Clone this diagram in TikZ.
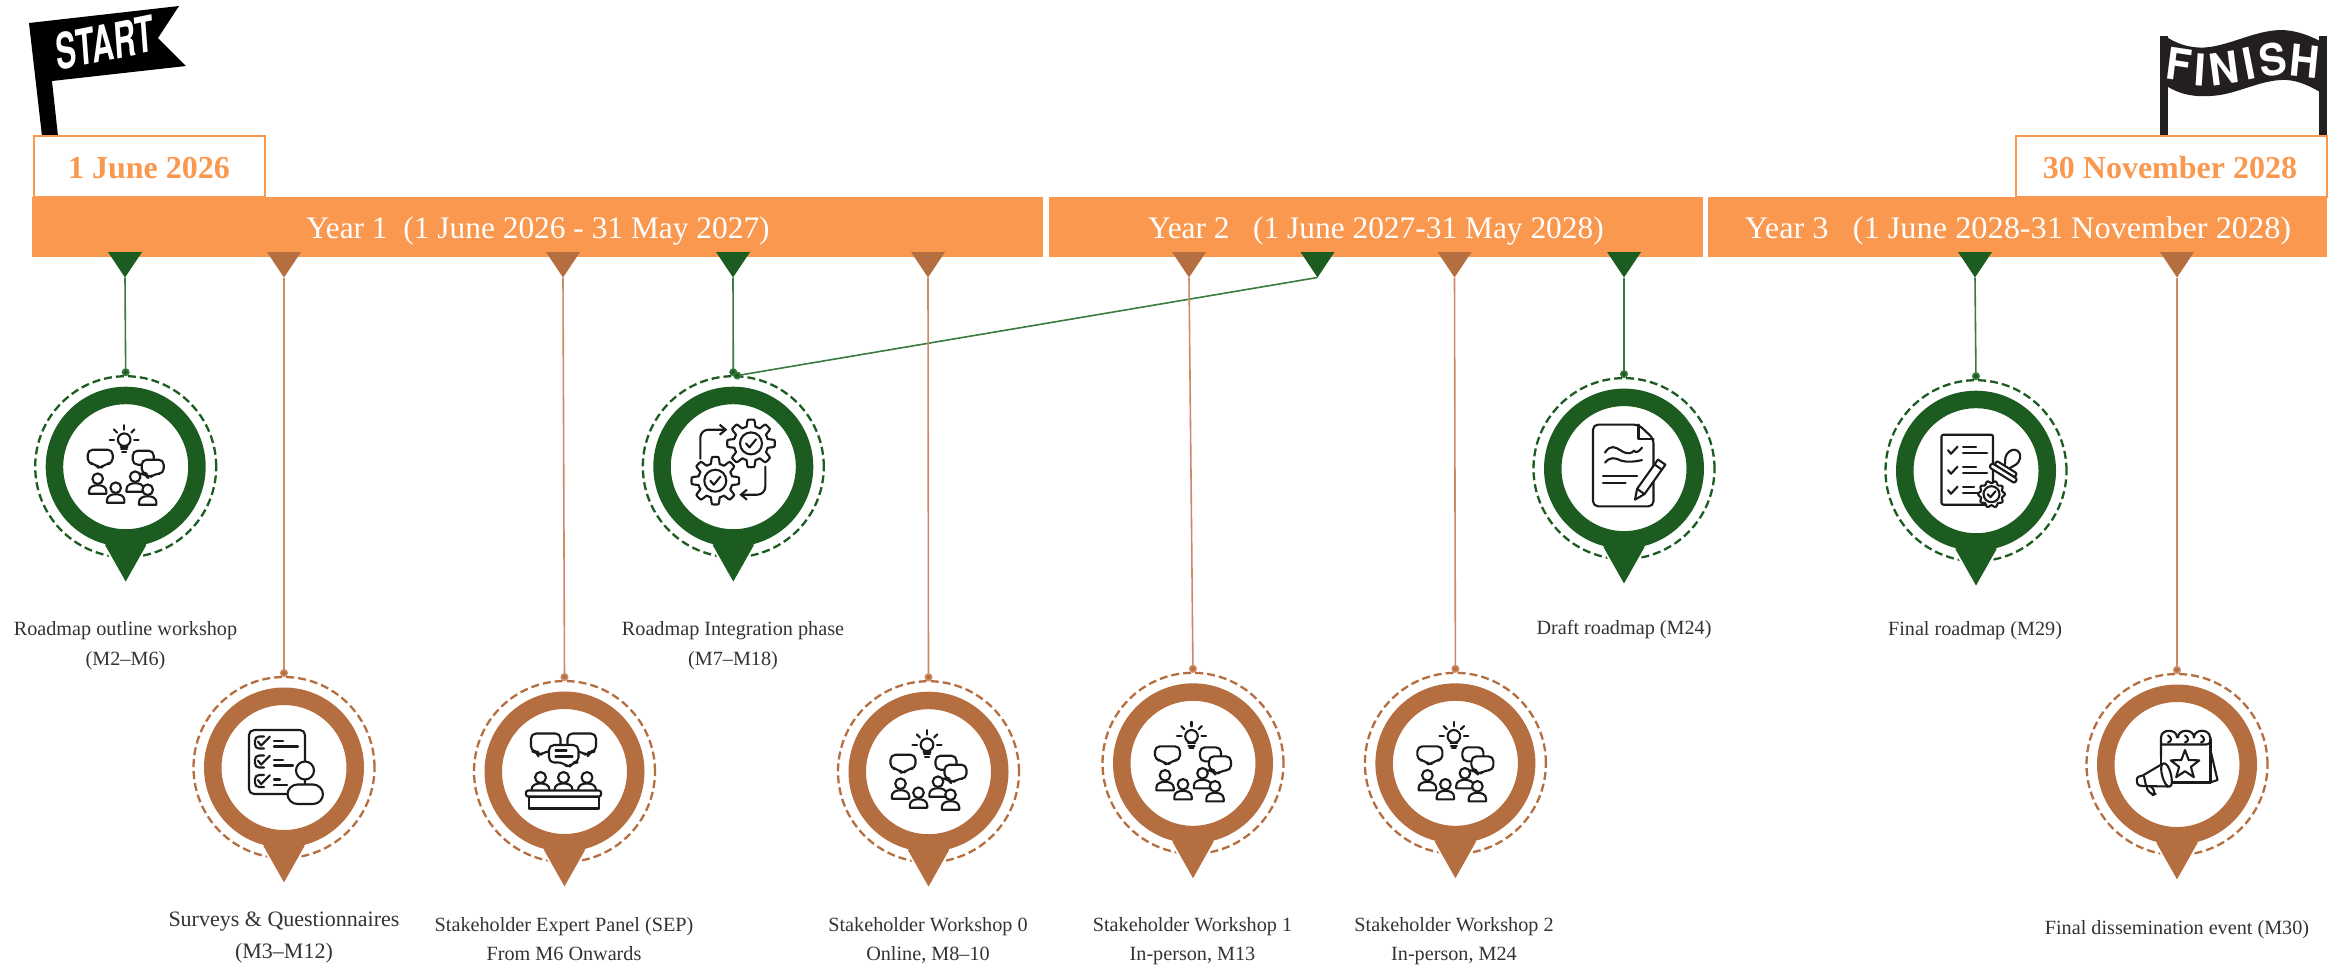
\documentclass[tikz,border=0pt]{standalone}
\usepackage{graphicx}
\usepackage{fontspec}
\setmainfont{Liberation Serif}
\newfontfamily\headfont{TeX Gyre Heros}
\usetikzlibrary{arrows.meta}
\definecolor{barorange}{HTML}{F9984E}
\definecolor{pingreen}{HTML}{1C5C20}
\definecolor{pinbrown}{HTML}{B56E40}
\definecolor{linegreen}{HTML}{3B7A40}
\definecolor{linebrown}{HTML}{CC8A66}
\definecolor{iconink}{HTML}{1A1A1A}
\definecolor{labelink}{HTML}{333333}
\definecolor{flagink}{HTML}{231F20}
\newcommand{\waveletter}[3]{\raisebox{#1pt}{\rotatebox[origin=c]{#2}{#3}}}
\tikzset{
  icon/.style={draw=iconink,line width=1.05pt,line join=round,line cap=round},
  iconw/.style={icon,fill=white},
  barbox/.style={fill=barorange,inner sep=0pt,outer sep=0pt,minimum height=30pt},
  bartext/.style={text=white,font=\fontsize{15.7}{18}\selectfont,inner sep=0pt,anchor=base},
  datebox/.style={draw=barorange,line width=1pt,fill=white,inner sep=0pt,outer sep=0pt,minimum height=30.5pt},
  datetext/.style={text=barorange,font=\fontsize{16}{18}\selectfont\bfseries,inner sep=0pt,anchor=base},
  pinlabel/.style={text=labelink,font=\fontsize{10.1}{12}\selectfont,inner sep=0pt,anchor=base},
  pinlabelbig/.style={text=labelink,font=\fontsize{11}{13}\selectfont,inner sep=0pt,anchor=base},
  dashring/.style={circle,draw=#1,line width=1.15pt,dash pattern=on 4pt off 2pt,minimum size=90.5pt,inner sep=0pt,outer sep=0pt},
  mainring/.style={circle,draw=#1,line width=8.75pt,fill=white,minimum size=71.25pt,inner sep=0pt,outer sep=0pt},
  linkg/.style={draw=linegreen,line width=.8pt,-{Circle[length=4pt,width=4pt,fill=pingreen]}},
  linkb/.style={draw=linebrown,line width=.8pt,-{Circle[length=4pt,width=4pt,fill=pinbrown]}},
  personpic/.pic={
    \draw[iconw] (-8.7,15) -- (-8.7,12.5) .. controls (-8.7,8) and (-4,6.5) .. (0,6.5) .. controls (4,6.5) and (8.7,8) .. (8.7,12.5) -- (8.7,15) -- cycle;
    \draw[iconw] (0,0) circle[radius=5.3];
  },
  workshopicon/.pic={
    \draw[icon] (-1.5,-27) circle[radius=6.3];
    \foreach \a in {180,225,270,315,0}{\draw[icon] ([shift={(\a:10)}]-1.5,-27) -- ([shift={(\a:14.5)}]-1.5,-27);}
    \draw[icon] (-5,-20) -- (2,-20) (-4.5,-17.5) -- (1.5,-17.5) (-3.5,-15) -- (.5,-15);
    \draw[icon,rounded corners=2.5pt] (-38,-17) -- (-13,-17) -- (-13,-3) -- (-21,-3) -- (-26,3) -- (-30,-3) -- (-38,-3) -- cycle;
    \draw[iconw,rounded corners=2.5pt] (7,-16) -- (28,-16) -- (28,-2) -- (7,-2) -- cycle;
    \draw[iconw,rounded corners=2.5pt] (16,-7) -- (38,-7) -- (38,7) -- (29,7) -- (23,12) -- (20,7) -- (16,7) -- cycle;
    \pic at (-28,12) {personpic};
    \pic at (-10,21) {personpic};
    \pic at (9.5,10) {personpic};
    \pic at (22,23) {personpic};
  },
  gearpic/.pic={
    \draw[iconw] plot[domain=0:360,samples=145] ({\x}:{20.5+3.3*max(-1,min(1,2.5*cos(8*\x)))}) -- cycle;
    \draw[icon] (0,0) circle[radius=11];
    \draw[icon] (-5,0) -- (-1.5,4) -- (5,-4);
  },
  gearicon/.pic={
    \draw[icon,rounded corners=4pt,-{Straight Barb[length=3pt,width=5pt]}] (-33,-8) -- (-33,-37) -- (-6,-37);
    \draw[icon,rounded corners=4pt,-{Straight Barb[length=3pt,width=5pt]}] (32,0) -- (32,28) -- (6,28);
    \pic at (17.7,-23.3) {gearpic};
    \pic at (-18,14) {gearpic};
  },
  surveyicon/.pic={
    \draw[icon,rounded corners=2.5pt] (-35,-37.5) rectangle (21,26.5);
    \foreach \yy/\aa/\bb in {-25/-1/14,-6/-1/9,13.5/-4/3}{
      \draw[icon,rounded corners=2pt] (-20,\yy-6) -- (-29,\yy-6) -- (-29,\yy+6) -- (-20,\yy+6);
      \draw[icon] (-26,\yy-1) -- (-23,\yy+3) -- (-14,\yy-6);
      \draw[icon] (-10,\yy-1.5) -- (\aa,\yy-1.5);
      \draw[icon] (-10,\yy+4) -- (\bb,\yy+4);
    }
    \draw[icon] (21,12) -- (21,17);
    \draw[iconw] (21,3) circle[radius=9];
    \draw[iconw,rounded corners=5pt] (3.5,17) rectangle (39,36.5);
  },
  panelicon/.pic={
    \draw[iconw,rounded corners=2.5pt] (-33.5,-38) -- (-4,-38) -- (-4,-20) -- (-20,-20) -- (-26,-15) -- (-27,-20) -- (-33.5,-20) -- cycle;
    \draw[iconw,rounded corners=2.5pt] (3,-38) -- (31.5,-38) -- (31.5,-20) -- (25,-20) -- (23,-15) -- (17,-20) -- (3,-20) -- cycle;
    \draw[iconw,rounded corners=2.5pt] (-15.5,-26.5) -- (14,-26.5) -- (14,-9) -- (8,-9) -- (4,-3) -- (-1,-9) -- (-15.5,-9) -- cycle;
    \draw[icon] (-9,-21) -- (2,-21) (-9,-15) -- (8,-15);
    \foreach \xx in {-24,-1,22.5}{
      \draw[iconw] (\xx-9,18.5) .. controls (\xx-9,13) and (\xx-4,12) .. (\xx,12) .. controls (\xx+4,12) and (\xx+9,13) .. (\xx+9,18.5);
      \draw[iconw] (\xx,6) circle[radius=5.5];
    }
    \draw[iconw] (-35.5,25) rectangle (34.5,37);
    \draw[iconw,rounded corners=1pt] (-38.5,19) rectangle (36.5,25);
  },
  drafticon/.pic={
    \draw[icon,rounded corners=2.5pt] (-31,-44) -- (14.5,-44) -- (29.5,-30) -- (29.5,37.7) -- (-31,37.7) -- cycle;
    \draw[icon] (14.5,-44) -- (14.5,-30) -- (29.5,-30);
    \draw[icon] (-19,-16) .. controls (-14,-24) and (-9,-22) .. (-3,-18) .. controls (3,-14) and (8,-15) .. (10,-18) .. controls (12,-15) and (15,-17) .. (18,-21);
    \draw[icon] (-19,-6) .. controls (-14,-12) and (-9,-11) .. (-3,-8) .. controls (3,-6) and (12,-7) .. (18,-8.5);
    \draw[icon] (-21,7.5) -- (13,7.5) (-21,14.5) -- (1.5,14.5);
    \draw[iconw] (11,31) -- (13.1,20.2) -- (34,-9.1) -- (41.4,-3.9) -- (20.5,25.5) -- cycle;
    \draw[icon] (13.1,20.2) -- (20.5,25.5) (30.5,-4.2) -- (37.9,1);
  },
  finalicon/.pic={
    \draw[icon,rounded corners=1pt] (-34.5,-36) rectangle (17,34);
    \foreach \yy/\aa/\bb in {-20.5/0/11,-.5/0/11,19.5/-2/2}{
      \draw[icon] (-28,\yy) -- (-25,\yy+3.5) -- (-18.5,\yy-3.5);
      \draw[icon] (-13,\yy-3) -- (\aa,\yy-3);
      \draw[icon] (-13,\yy+2.5) -- (\bb,\yy+2.5);
    }
    \begin{scope}[shift={(27.5,2)},rotate=-32]
      \draw[iconw] (-3,-6) .. controls (-3,-10) and (-7,-12) .. (-7,-17) .. controls (-7,-29) and (7,-29) .. (7,-17) .. controls (7,-12) and (3,-10) .. (3,-6) -- cycle;
      \draw[iconw,rounded corners=1pt] (-12,-6.5) rectangle (12,-2);
      \draw[iconw,rounded corners=1pt] (-15,-2) rectangle (15,3);
    \end{scope}
    \draw[iconw,shift={(15.5,23.5)}] plot[domain=0:360,samples=73] ({\x}:{12.2+1.2*cos(10*\x)}) -- cycle;
    \draw[icon,shift={(15.5,23.5)}] (0,0) circle[radius=8];
    \draw[icon,shift={(15.5,23.5)}] (-4,0) -- (-1,3) -- (4,-3);
  },
  eventicon/.pic={
    \draw[icon] (33.5,-14) -- (40.5,15.5) -- (33,18);
    \draw[icon] (-16,-8) -- (-16,18) -- (33.5,18) -- (33.5,-25);
    \foreach \xx in {-8,9,25}{
      \draw[icon] (\xx-8,-27) .. controls (\xx-8,-36) and (\xx+8,-36) .. (\xx+8,-27);
      \draw[icon] (\xx-1,-29) .. controls (\xx+3,-27) and (\xx+3,-23) .. (\xx-1,-22);
    }
    \draw[icon,rounded corners=2pt] (-16,-8) -- (-16,-27) (33.5,-27) -- (33.5,-20) -- (-16,-20);
    \draw[icon,shift={(8,.5)}] (-90:15) -- (-54:6.2) -- (-18:15) -- (18:6.2) -- (54:15) -- (90:6.2) -- (126:15) -- (162:6.2) -- (198:15) -- (234:6.2) -- cycle;
    \draw[iconw,rounded corners=2pt] (-32,22) -- (-25,31) -- (-21,29) -- (-27,20) -- cycle;
    \draw[iconw,rounded corners=1pt] (-14,-1) -- (-7,22) -- (-36,21.5) .. controls (-41,20) and (-41,12) .. (-36,12) -- cycle;
    \draw[iconw] (-14,-1) .. controls (-8,-4) and (-2,20) .. (-7,22) .. controls (-13,24) and (-19,1) .. (-14,-1);
    \draw[icon] (-33,12) -- (-31,21);
  },
}
% name, x, y, colour, icon
\newcommand{\pinmark}[5]{%
  \node[dashring=#4] (#1d) at (#2,#3) {};
  \fill[#4,draw=white,line width=.9pt,line join=miter] ([shift={(-22,78)}]#2,#3) -- ([shift={(0,117)}]#2,#3) -- ([shift={(22,78)}]#2,#3) -- ([shift={(0,60)}]#2,#3) -- cycle;
  \node[mainring=#4] (#1r) at (#2,#3) {};
  \pic at (#2,#3) {#5};
}
\newcommand{\tabmark}[3]{%
  \fill[#3] (#2-17,252) -- (#2+17,252) -- (#2,277.5) -- cycle;
  \coordinate (#1) at (#2,277.5);
}
\begin{document}
\begin{tikzpicture}[x=.5pt,y=-.5pt]
\useasboundingbox (0,0) rectangle (2341,966);
\fill[white] (0,0) rectangle (2341,966);
% flags
\fill[black] (29,23) -- (179,6) -- (158,38) -- (186,66) -- (52,81) -- (58,136) -- (42,136) -- cycle;
\node[text=white,font=\headfont\bfseries\fontsize{25}{25}\selectfont,xscale=.61,rotate=7,inner sep=0pt] (starttext) at (105,43) {START};
\fill[flagink] (2160,36) -- (2168,36) -- (2168,136) -- (2160,136) -- cycle;
\fill[flagink] (2319,36) -- (2327,36) -- (2327,136) -- (2319,136) -- cycle;
\fill[flagink] (2165,36) .. controls (2180,46) and (2195,49) .. (2210,47) .. controls (2235,43) and (2255,31) .. (2280,30) .. controls (2295,30) and (2308,35) .. (2320,41) -- (2320,92) .. controls (2308,85) and (2295,79) .. (2280,80) .. controls (2255,82) and (2235,95) .. (2210,96) .. controls (2195,97) and (2180,95) .. (2165,85) -- cycle;
\node[text=white,font=\headfont\bfseries\fontsize{22}{22}\selectfont,xscale=.93,inner sep=0pt] (finishtext) at (2243,64) {\waveletter{.5}{-8}{F}\waveletter{-2.5}{-4}{I}\waveletter{-1.5}{8}{N}\waveletter{.5}{12}{I}\waveletter{2.5}{8}{S}\waveletter{2}{-6}{H}};
% year bars
\node[barbox,minimum width=505.5pt] (year1) at (537.5,227) {};
\node[barbox,minimum width=327.25pt] (year2) at (1375.75,227) {};
\node[barbox,minimum width=309.5pt] (year3) at (2017.5,227) {};
\node[bartext] (year1t) at (538,238) {Year 1\ \ (1 June 2026 - 31 May 2027)};
\node[bartext] (year2t) at (1376,238) {Year 2\ \ \ (1 June 2027-31 May 2028)};
\node[bartext,xscale=1.03] (year3t) at (2018,238) {Year 3\ \ \ (1 June 2028-31 November 2028)};
% date boxes
\node[datebox,minimum width=115.5pt] (date1) at (149,166.5) {};
\node[datebox,minimum width=155.5pt] (date2) at (2171,166.5) {};
\node[datetext] (date1t) at (149,178) {1 June 2026};
\node[datetext] (date2t) at (2170,178) {30 November 2028};
% tabs on the bar
\tabmark{t1}{125}{pingreen}
\tabmark{t2}{284}{pinbrown}
\tabmark{t3}{563}{pinbrown}
\tabmark{t4}{733}{pingreen}
\tabmark{t5}{928}{pinbrown}
\tabmark{t6}{1189}{pinbrown}
\tabmark{t7}{1317.5}{pingreen}
\tabmark{t8}{1454.5}{pinbrown}
\tabmark{t9}{1624}{pingreen}
\tabmark{t10}{1975}{pingreen}
\tabmark{t11}{2177}{pinbrown}
% pins
\pinmark{a}{125.7}{466.7}{pingreen}{workshopicon}
\pinmark{b}{284}{767.5}{pinbrown}{surveyicon}
\pinmark{c}{564.5}{771.5}{pinbrown}{panelicon}
\pinmark{d}{733.3}{466.7}{pingreen}{gearicon}
\pinmark{e}{928.5}{771.7}{pinbrown}{workshopicon}
\pinmark{f}{1193}{763.3}{pinbrown}{workshopicon}
\pinmark{g}{1455.4}{763.3}{pinbrown}{workshopicon}
\pinmark{h}{1624}{468.6}{pingreen}{drafticon}
\pinmark{i}{1976}{470.7}{pingreen}{finalicon}
\pinmark{j}{2177}{764.5}{pinbrown}{eventicon}
% connectors
\draw[linkg] (t1) -- (ad.north);
\draw[linkb] (t2) -- (bd.north);
\draw[linkb] (t3) -- (cd.north);
\draw[linkg] (t4) -- (dd.north);
\draw[linkg] (t7) -- (dd.north);
\draw[linkb] (t5) -- (ed.north);
\draw[linkb] (t6) -- (fd.north);
\draw[linkb] (t8) -- (gd.north);
\draw[linkg] (t9) -- (hd.north);
\draw[linkg] (t10) -- (id.north);
\draw[linkb] (t11) -- (jd.north);
% labels
\node[pinlabel] (la1) at (125.5,635) {Roadmap outline workshop};
\node[pinlabel] (la2) at (125.5,665) {(M2–M6)};
\node[pinlabelbig] (lb1) at (284,926.5) {Surveys \& Questionnaires};
\node[pinlabelbig] (lb2) at (284,958) {(M3–M12)};
\node[pinlabel] (lc1) at (564,931) {Stakeholder Expert Panel (SEP)};
\node[pinlabel] (lc2) at (564,960) {From M6 Onwards};
\node[pinlabel] (ld1) at (733,635) {Roadmap Integration phase};
\node[pinlabel] (ld2) at (733,665) {(M7–M18)};
\node[pinlabel] (le1) at (928,931) {Stakeholder Workshop 0};
\node[pinlabel] (le2) at (928,960) {Online, M8–10};
\node[pinlabel] (lf1) at (1192.5,931) {Stakeholder Workshop 1};
\node[pinlabel] (lf2) at (1192.5,960) {In-person, M13};
\node[pinlabel] (lg1) at (1454,931) {Stakeholder Workshop 2};
\node[pinlabel] (lg2) at (1454,960) {In-person, M24};
\node[pinlabel] (lh1) at (1624,634) {Draft roadmap (M24)};
\node[pinlabel] (li1) at (1975,635) {Final roadmap (M29)};
\node[pinlabel] (lj1) at (2177,934) {Final dissemination event (M30)};
\end{tikzpicture}
\end{document}
